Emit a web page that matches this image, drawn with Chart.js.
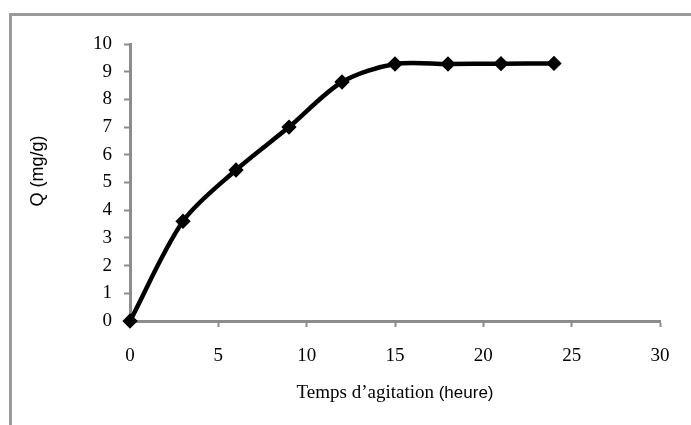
<!DOCTYPE html>
<html>
<head>
<meta charset="utf-8">
<script src="https://cdn.jsdelivr.net/npm/chart.js@4.4.0/dist/chart.umd.min.js"></script>
<style>
  html, body { margin: 0; padding: 0; background: #fff; }
  #wrap { position: relative; width: 691px; height: 425px; overflow: hidden; }
  /* cadre gris de la figure */
  #frame { position: absolute; left: 9px; top: 13px; width: 700px; height: 430px;
           border-left: 3px solid #9a9a9a; border-top: 3px solid #9a9a9a; }
  canvas { position: absolute; left: 0; top: 0; }
</style>
</head>
<body>
<div id="wrap">
  <div id="frame"></div>
  <canvas id="chart" width="691" height="425"></canvas>
</div>
<script>
// Données
const tempsHeures = [0, 3, 6, 9, 12, 15, 18, 21, 24];
const qMgG = [0, 3.6, 5.45, 7.0, 8.63, 9.28, 9.28, 9.29, 9.3];
const xTicks = [0, 5, 10, 15, 20, 25, 30];
const yTicks = [0, 1, 2, 3, 4, 5, 6, 7, 8, 9, 10];

const serif = '"Liberation Serif", "Times New Roman", serif';
const sans = '"Liberation Sans", Arial, sans-serif';
const axisGrey = '#8c8c8c';

// Titres des axes (police mixte comme dans l'original)
const axisTitles = {
  id: 'axisTitles',
  afterDraw(chart) {
    const ctx = chart.ctx;
    const area = chart.chartArea;
    ctx.save();
    ctx.fillStyle = '#000';
    ctx.textBaseline = 'middle';

    // titre X : "Temps d’agitation " en serif, "(heure)" en sans
    const part1 = 'Temps d\u2019agitation ';
    const part2 = '(heure)';
    ctx.font = '19px ' + serif;
    const w1 = ctx.measureText(part1).width;
    ctx.font = '17px ' + sans;
    const w2 = ctx.measureText(part2).width;
    let x = (area.left + area.right) / 2 - (w1 + w2) / 2;
    const y = 393;
    ctx.textAlign = 'left';
    ctx.font = '19px ' + serif;
    ctx.fillText(part1, x, y);
    ctx.font = '17px ' + sans;
    ctx.fillText(part2, x + w1, y);

    // titre Y
    ctx.translate(38, 171);
    ctx.rotate(-Math.PI / 2);
    ctx.textAlign = 'center';
    ctx.font = '18px ' + sans;
    ctx.fillText('Q (mg/g)', 0, 0);
    ctx.restore();
  }
};

new Chart(document.getElementById('chart'), {
  type: 'line',
  data: {
    datasets: [{
      data: tempsHeures.map((t, i) => ({ x: t, y: qMgG[i] })),
      borderColor: '#000',
      backgroundColor: '#000',
      borderWidth: 4.5,
      tension: 0.3,
      pointStyle: 'rectRot',
      pointRadius: 4.5,
      pointBackgroundColor: '#000',
      pointBorderColor: '#000',
      fill: false,
      clip: false
    }]
  },
  options: {
    responsive: false,
    animation: false,
    layout: { padding: { top: 44, right: 31, left: 0, bottom: 0 } },
    plugins: { legend: { display: false }, tooltip: { enabled: false } },
    scales: {
      x: {
        type: 'linear',
        min: 0, max: 30,
        afterBuildTicks: (s) => { s.ticks = xTicks.map(v => ({ value: v })); },
        afterFit: (s) => { s.height = 104; },
        ticks: { font: { family: serif, size: 19 }, color: '#000', padding: 18 },
        grid: { display: true, drawOnChartArea: false, drawTicks: true, tickLength: 6, tickColor: axisGrey, tickWidth: 2 },
        border: { color: axisGrey, width: 3 }
      },
      y: {
        type: 'linear',
        min: 0, max: 10,
        afterBuildTicks: (s) => { s.ticks = yTicks.map(v => ({ value: v })); },
        afterFit: (s) => { s.width = 130; },
        ticks: { font: { family: serif, size: 19 }, color: '#000', padding: 12 },
        grid: { display: true, drawOnChartArea: false, drawTicks: true, tickLength: 6, tickColor: axisGrey, tickWidth: 2 },
        border: { color: axisGrey, width: 3 }
      }
    }
  },
  plugins: [axisTitles]
});
</script>
</body>
</html>
